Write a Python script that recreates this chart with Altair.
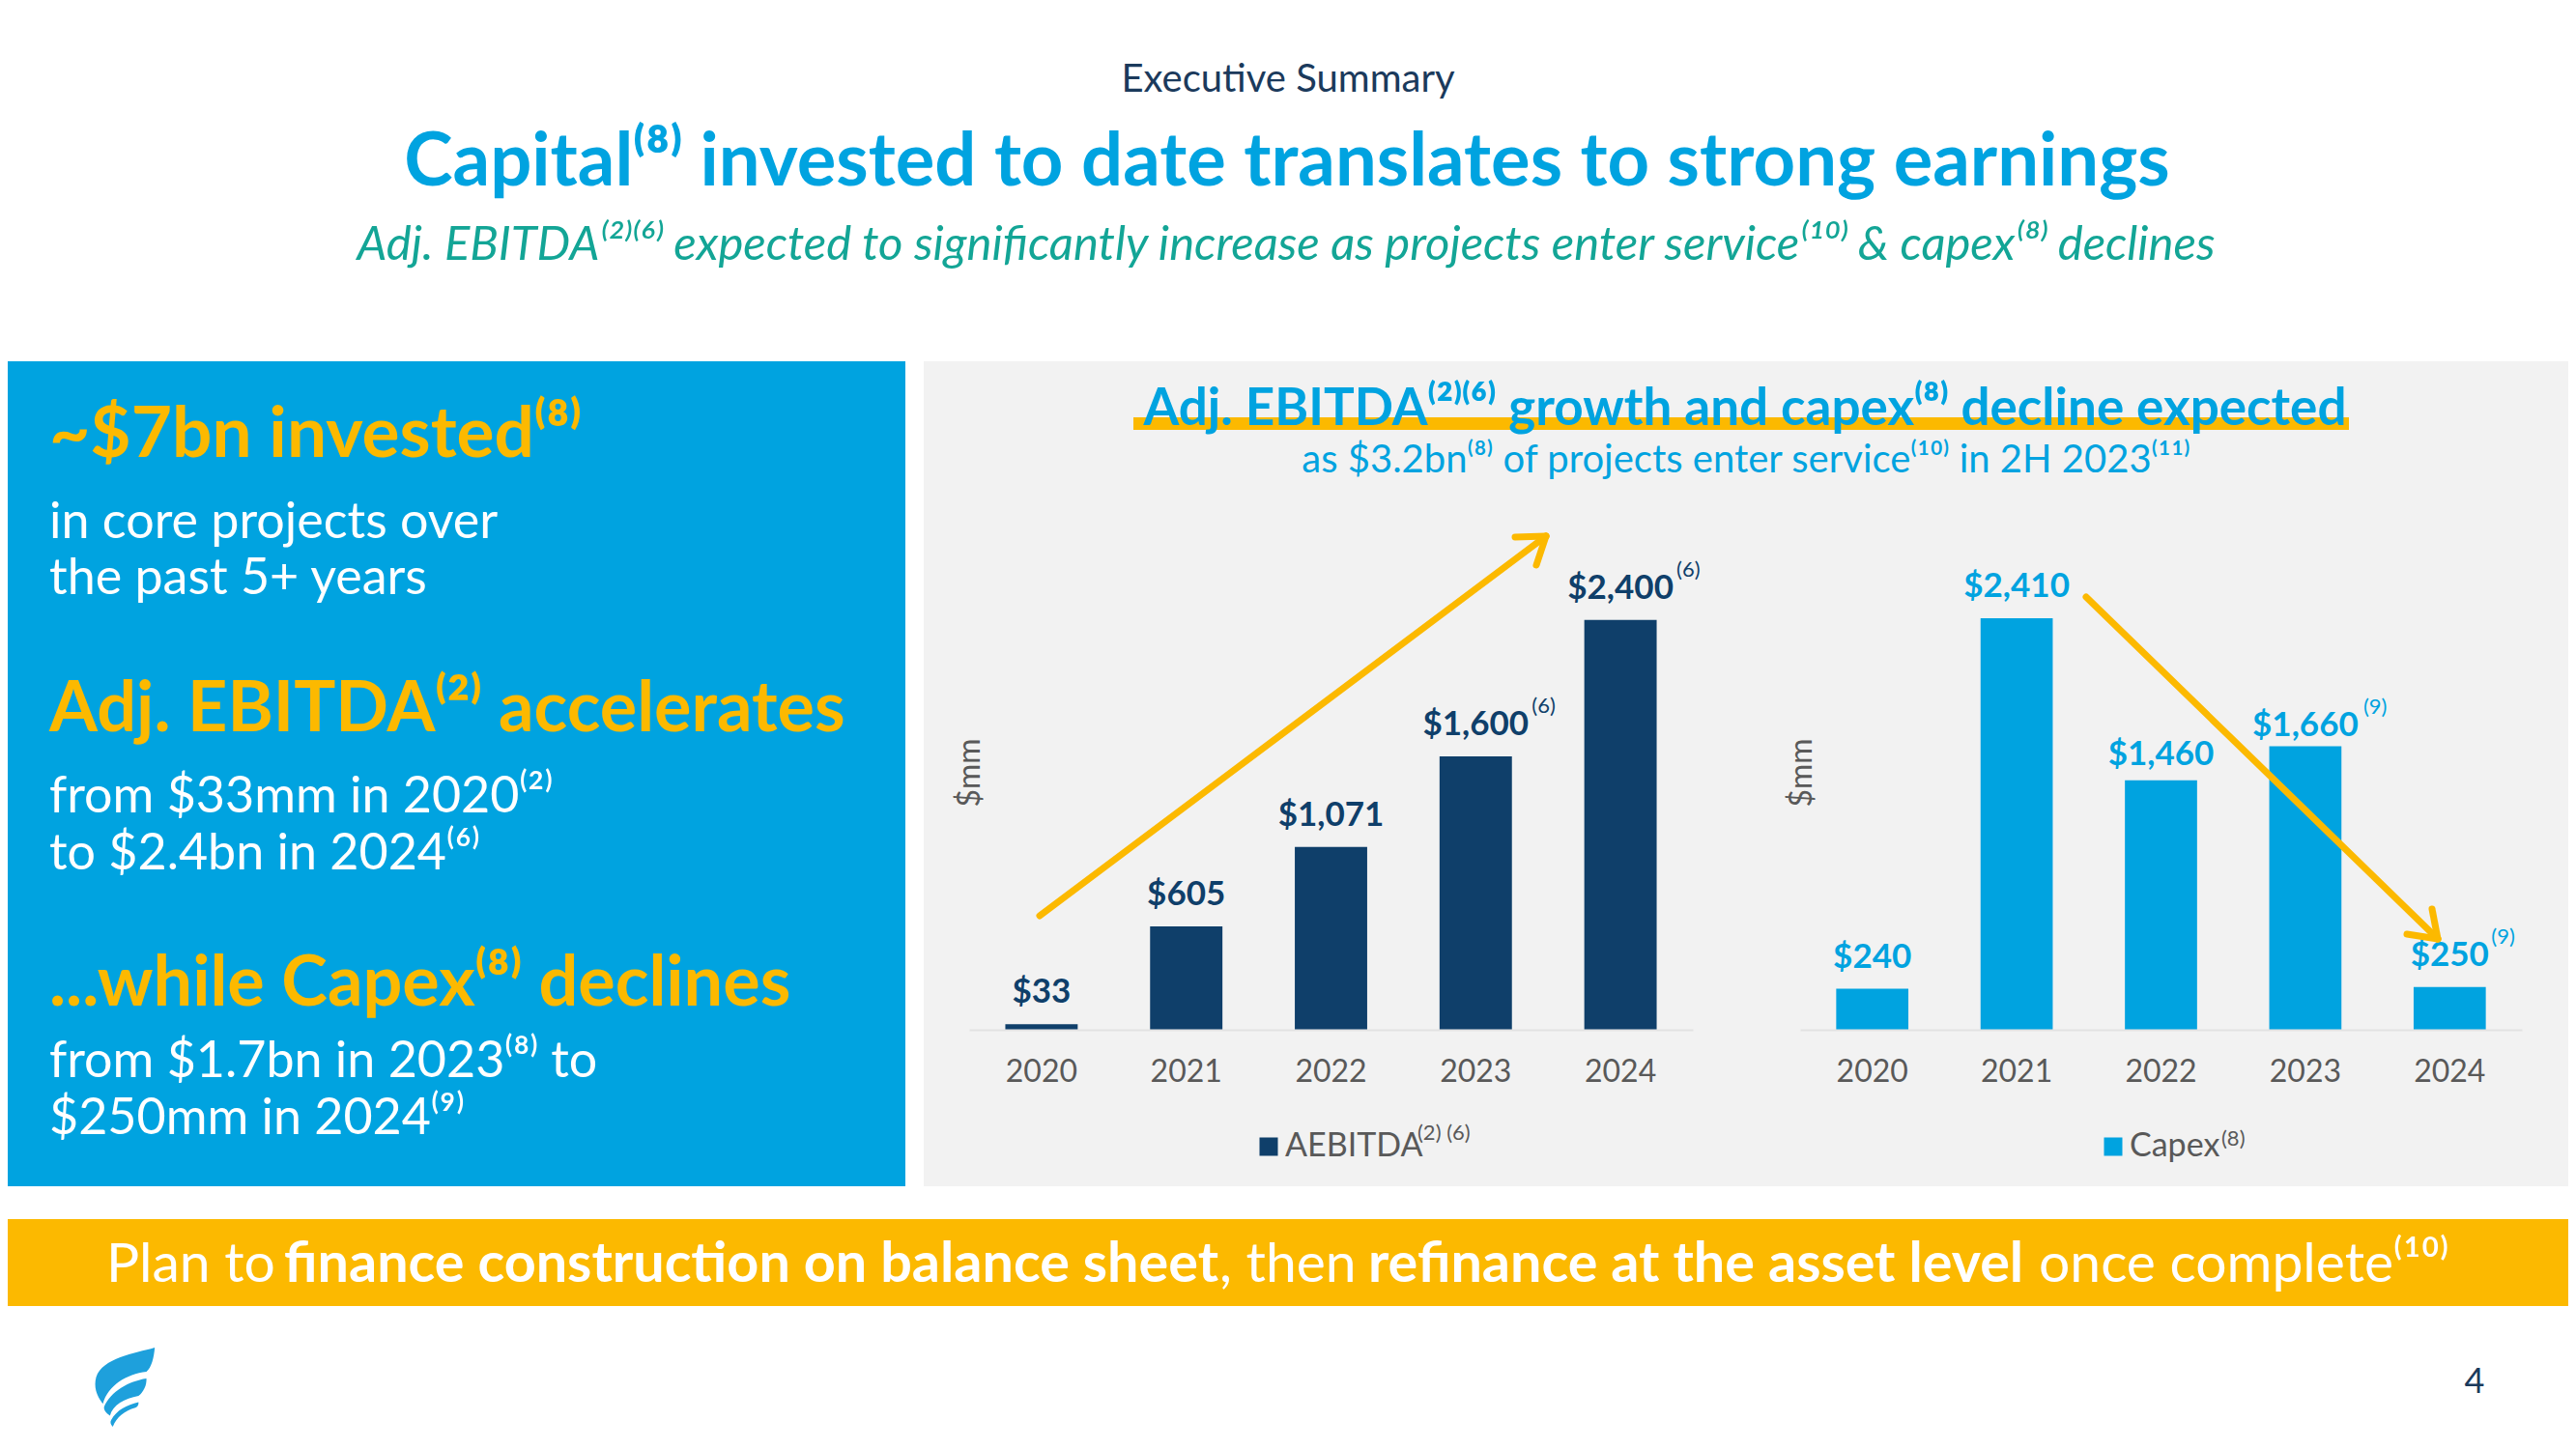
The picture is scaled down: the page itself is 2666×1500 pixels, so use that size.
import altair as alt
import pandas as pd

# ---------------- data ----------------
years = ["2020", "2021", "2022", "2023", "2024"]
aebitda = [33, 605, 1071, 1600, 2400]
aebitda_labels = ["$33", "$605", "$1,071", "$1,600", "$2,400"]
aebitda_notes = ["", "", "", "(6)", "(6)"]
capex = [240, 2410, 1460, 1660, 250]
capex_labels = ["$240", "$2,410", "$1,460", "$1,660", "$250"]
capex_notes = ["", "", "", "(9)", "(9)"]

FONT = "Lato"
BLUE = "#00a3e0"
NAVY = "#0f3f6a"
YELLOW = "#fcb900"
GRAYBG = "#f2f2f2"
TEAL = "#13a596"
AXT = "#595959"
DARK = "#1b3a5c"

W, H = 2650, 1484
one = pd.DataFrame({"k": [0]})
M = 8  # page margin


def rect(x1, y1, x2, y2, color):
    return alt.Chart(one).mark_rect(color=color).encode(
        x=alt.value(x1 - M), x2=alt.value(x2 - M), y=alt.value(y1 - M), y2=alt.value(y2 - M))


def txt(s, x, y, size, color, weight="normal", align="left", style="normal", angle=0):
    return alt.Chart(one).mark_text(
        text=s, fontSize=size, color=color, fontWeight=weight, align=align,
        baseline="alphabetic", font=FONT, fontStyle=style, angle=angle
    ).encode(x=alt.value(x - M), y=alt.value(y - M))


def seg(x1, y1, x2, y2):
    return alt.Chart(one).mark_rule(color=YELLOW, strokeWidth=7, strokeCap="round").encode(
        x=alt.value(x1 - M), y=alt.value(y1 - M), x2=alt.value(x2 - M), y2=alt.value(y2 - M))


def bar_panel(values, labels, notes, color, series, x0, x1, leg_x, label_dy, note_dx):
    df = pd.DataFrame({"year": years, "value": values, "label": labels,
                       "note": notes, "series": series})
    xs = alt.Scale(domain=years, range=[x0 - M, x1 - M], paddingInner=0.5, paddingOuter=0.25)
    ys = alt.Scale(domain=[0, 2500], range=[1066 - M, 1066 - M - 2500 * 0.1768])
    xaxis = alt.Axis(orient="bottom", offset=(1066 - M) - H, title=None, labelAngle=0,
                     ticks=False, tickSize=0, labelPadding=28, labelFontSize=32,
                     labelColor=AXT, labelFont=FONT, domainColor="#e2e2e2",
                     domainWidth=2, grid=False, zindex=1)
    X = alt.X("year:N", scale=xs, axis=xaxis)
    Y = alt.Y("value:Q", scale=ys, axis=None)
    base = alt.Chart(df)
    bars = base.mark_bar().encode(
        x=X, y=Y,
        color=alt.Color("series:N", scale=alt.Scale(domain=[series], range=[color]),
                        legend=alt.Legend(orient="none", legendX=leg_x - M, legendY=1170 - M,
                                          title=None, symbolType="square", symbolSize=361,
                                          symbolStrokeWidth=0, labelFontSize=34,
                                          labelColor=AXT, labelFont=FONT, labelOffset=0,
                                          padding=0, zindex=1)))
    layers = [bars]
    groups = {}
    for yr in years:
        groups.setdefault(label_dy.get(yr, -22), []).append(yr)
    for dy, yrs in groups.items():
        layers.append(base.mark_text(fontSize=35, fontWeight="bold", color=color,
                                     baseline="alphabetic", font=FONT, dy=dy).encode(
            x=X, y=Y, text="label:N").transform_filter(
            alt.FieldOneOfPredicate(field="year", oneOf=yrs)))
    for yr, dx in note_dx.items():
        layers.append(base.mark_text(fontSize=22, color=color, baseline="alphabetic",
                                     align="left", font=FONT, dx=dx,
                                     dy=label_dy.get(yr, -22) - 23).encode(
            x=X, y=Y, text="note:N").transform_filter(
            alt.FieldEqualPredicate(field="year", equal=yr)))
    return alt.layer(*layers)


left = bar_panel(aebitda, aebitda_labels, aebitda_notes, NAVY, "AEBITDA", 1003, 1752, 1296,
                 {}, {"2023": 58, "2024": 58})
right = bar_panel(capex, capex_labels, capex_notes, BLUE, "Capex", 1863, 2610, 2170,
                  {"2022": -16, "2023": -11}, {"2023": 60, "2024": 43})

logo_path = ("M-0.72,-0.25 C-0.55,-0.75 0.25,-0.85 0.76,-1 C0.74,-0.75 0.68,-0.5 0.55,-0.39 "
             "C0.05,-0.33 -0.42,-0.05 -0.55,0.42 C-0.72,0.2 -0.78,-0.02 -0.72,-0.25 Z "
             "M0.55,-0.22 C0.56,-0.05 0.48,0.12 0.35,0.22 C0.0,0.28 -0.3,0.45 -0.37,0.72 "
             "C-0.48,0.65 -0.53,0.57 -0.52,0.5 C-0.35,0.1 0.1,-0.15 0.55,-0.22 Z "
             "M0.35,0.38 C0.36,0.45 0.32,0.5 0.27,0.52 C0.0,0.6 -0.2,0.75 -0.3,1.0 "
             "C-0.36,0.93 -0.37,0.88 -0.34,0.83 C-0.2,0.58 0.05,0.45 0.35,0.38 Z")
logo = alt.Chart(one).mark_point(shape=logo_path, filled=True, size=6724, color="#1ea0dc",
                                 opacity=1, strokeWidth=0).encode(
    x=alt.value(129 - M), y=alt.value(1436 - M))

layers = [
    # panels
    rect(0, 374, 937, 1228, BLUE),
    rect(956, 374, 2666, 1228, GRAYBG),
    rect(0, 1262, 2666, 1352, YELLOW),
    rect(1173, 432, 2431, 445, YELLOW),
    # header
    txt("Executive Summary", 1333, 95, 40, DARK, align="center"),
    txt("Capital⁽⁸⁾ invested to date translates to strong earnings", 1332, 192, 76, BLUE,
        weight="bold", align="center"),
    txt("Adj. EBITDA⁽²⁾⁽⁶⁾ expected to significantly increase as projects enter service⁽¹⁰⁾ "
        "& capex⁽⁸⁾ declines", 1331, 269, 49, TEAL, align="center", style="italic"),
    # left panel
    txt("~$7bn invested⁽⁸⁾", 51, 473, 73, YELLOW, weight="bold"),
    txt("in core projects over", 51, 557, 52, "white"),
    txt("the past 5+ years", 51, 615, 52, "white"),
    txt("Adj. EBITDA⁽²⁾ accelerates", 51, 757, 72, YELLOW, weight="bold"),
    txt("from $33mm in 2020⁽²⁾", 51, 841, 52, "white"),
    txt("to $2.4bn in 2024⁽⁶⁾", 51, 900, 52, "white"),
    txt("...while Capex⁽⁸⁾ declines", 51, 1041, 72, YELLOW, weight="bold"),
    txt("from $1.7bn in 2023⁽⁸⁾ to", 51, 1115, 52, "white"),
    txt("$250mm in 2024⁽⁹⁾", 51, 1174, 52, "white"),
    # chart header
    txt("Adj. EBITDA⁽²⁾⁽⁶⁾ growth and capex⁽⁸⁾ decline expected", 1806, 440, 53, BLUE,
        weight="bold", align="center"),
    txt("as $3.2bn⁽⁸⁾ of projects enter service⁽¹⁰⁾ in 2H 2023⁽¹¹⁾", 1807, 489, 40, BLUE,
        align="center"),
    txt("$mm", 1014, 800, 32, AXT, align="center", angle=270),
    txt("$mm", 1875, 800, 32, AXT, align="center", angle=270),
    left,
    right,
    txt("(2) (6)", 1467, 1180, 22, AXT),
    txt("(8)", 2299, 1186, 22, AXT),
    # arrows
    seg(1076, 948, 1600, 555), seg(1600, 555, 1568, 556), seg(1600, 555, 1590, 585),
    seg(2159, 618, 2523, 972), seg(2523, 972, 2517, 941), seg(2523, 972, 2491, 967),
    # bottom banner
    txt("Plan to ", 110, 1327, 57, "white"),
    txt("finance construction on balance sheet", 294, 1327, 57.5, "white", weight="bold"),
    txt(", then ", 1262, 1327, 57, "white"),
    txt("refinance at the asset level", 1416, 1327, 57.5, "white", weight="bold"),
    txt("once complete⁽¹⁰⁾", 2110, 1327, 57, "white"),
    txt("4", 2561, 1442, 36, DARK, align="center"),
    logo,
]

chart = alt.layer(*layers).resolve_scale(
    x="independent", y="independent", color="independent"
).properties(
    width=W, height=H, autosize=alt.AutoSizeParams(type="none"), padding=0,
    background="white"
).configure_view(stroke=None)

chart.save("out.html", embed_options={"renderer": "svg", "actions": False})
